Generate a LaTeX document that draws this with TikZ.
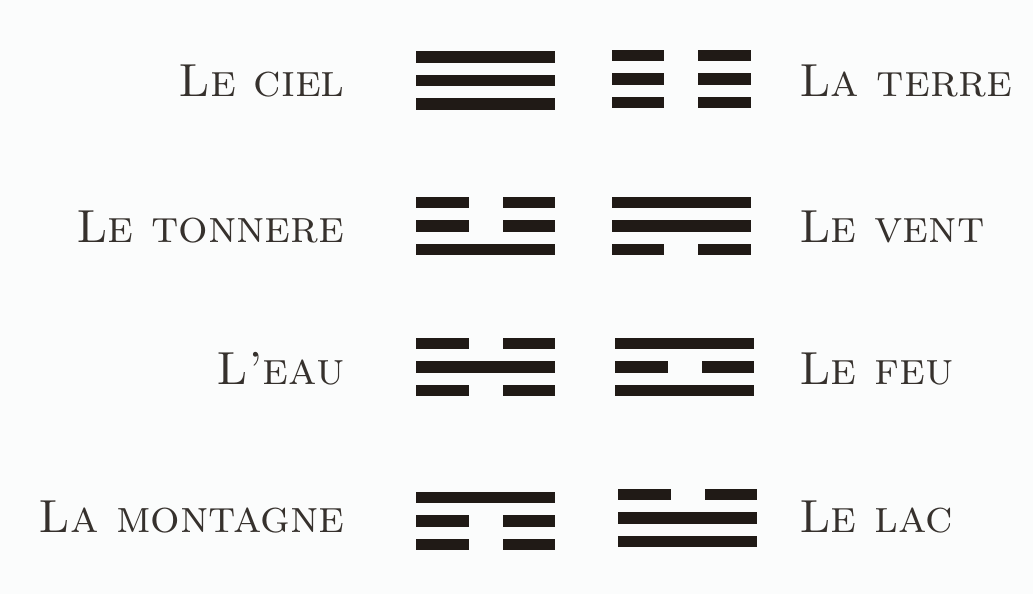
\documentclass[tikz,border=0pt]{standalone}
\usetikzlibrary{positioning}
\definecolor{ink}{RGB}{32,26,22}
\definecolor{paper}{RGB}{251,252,252}
\tikzset{
  element/.style={font=\fontsize{33}{38}\selectfont\scshape,text=ink!90,inner sep=0pt},
  % trigram: list of lines from top to bottom, 1 = whole, 0 = broken
  pics/trigram/.style={code={
    \foreach \b [count=\i] in {#1} {
      \fill[ink] (-69.5,{(\i-2)*23.5-5.75}) rectangle (-17,{(\i-2)*23.5+5.75});
      \fill[ink] (17,{(\i-2)*23.5-5.75}) rectangle (69.5,{(\i-2)*23.5+5.75});
      \ifnum\b=1
        \fill[ink] (-17.5,{(\i-2)*23.5-5.75}) rectangle (17.5,{(\i-2)*23.5+5.75});
      \fi
    }
  }},
}
\begin{document}
\begin{tikzpicture}[x=0.025cm,y=-0.025cm]
  \fill[paper] (0,0) rectangle (1033,594);
  \useasboundingbox (0,0) rectangle (1033,594);
  % row 1
  \node[element,anchor=base east] (ciel) at (345,96) {Le ciel};
  \pic at (485.5,80.5) {trigram={1,1,1}};
  \pic at (681,79) {trigram={0,0,0}};
  \node[element,anchor=base west] (terre) at (799,96) {La terre};
  % row 2
  \node[element,anchor=base east] (tonnere) at (345,242) {Le tonnere};
  \pic at (485.5,226) {trigram={0,0,1}};
  \node[element,anchor=base west] (vent) at (799,242) {Le vent};
  \pic at (681,226) {trigram={1,1,0}};
  % row 3
  \node[element,anchor=base east] (eau) at (345,384) {L’eau};
  \pic at (485.5,367) {trigram={0,1,0}};
  \pic at (684.5,367) {trigram={1,0,1}};
  \node[element,anchor=base west] (feu) at (799,384) {Le feu};
  % row 4
  \node[element,anchor=base east] (montagne) at (345,532) {La montagne};
  \pic at (485.5,521) {trigram={1,0,0}};
  \pic at (687.5,518) {trigram={0,1,1}};
  \node[element,anchor=base west] (lac) at (799,532) {Le lac};
\end{tikzpicture}
\end{document}
